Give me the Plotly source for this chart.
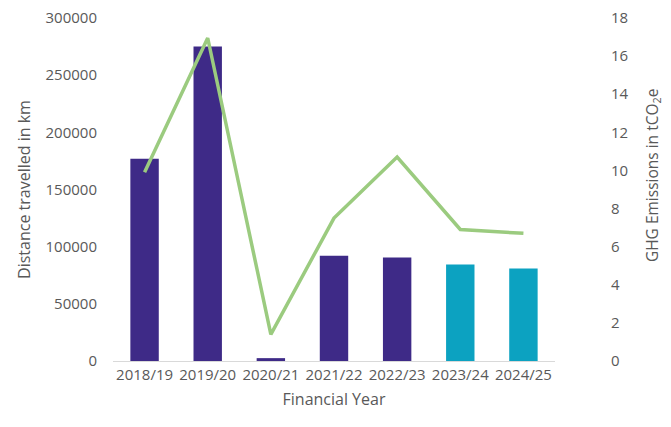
import plotly.graph_objects as go

years = ["2018/19", "2019/20", "2020/21", "2021/22", "2022/23", "2023/24", "2024/25"]
distance_km = [177000, 275000, 2500, 92000, 90500, 84500, 81000]
ghg_tco2e = [9.9, 16.95, 1.4, 7.5, 10.7, 6.9, 6.7]
bar_colors = ["#3E2A87", "#3E2A87", "#3E2A87", "#3E2A87", "#3E2A87", "#0CA2C1", "#0CA2C1"]

font_family = "Open Sans, Lato, sans-serif"
grey = "#595959"

fig = go.Figure()
fig.add_trace(go.Bar(x=years, y=distance_km, marker_color=bar_colors, marker_line_width=0,
                     name="Distance travelled", yaxis="y"))
fig.add_trace(go.Scatter(x=years, y=ghg_tco2e, mode="lines", line=dict(color="#9BCB7F", width=3.5),
                         name="GHG Emissions", yaxis="y2"))

fig.update_layout(
    width=663, height=419,
    margin=dict(l=105, r=116, t=10, b=66, autoexpand=False),
    plot_bgcolor="white", paper_bgcolor="white",
    showlegend=False,
    bargap=0.55,
    font=dict(family=font_family, color=grey, size=15),
    xaxis=dict(title=dict(text="Financial Year", font=dict(size=16, color=grey), standoff=10),
               showline=True, linecolor="#D9D9D9", linewidth=1, ticks="", automargin=False,
               tickfont=dict(size=15, color=grey)),
    yaxis=dict(range=[0, 300000], dtick=50000, showgrid=False, zeroline=False, tickformat="d",
               automargin=False, ticklabeloverflow="allow",
               title=dict(text="Distance travelled in km", font=dict(size=16, color=grey), standoff=10),
               tickfont=dict(size=15, color=grey), ticks="outside", ticklen=12, tickcolor="white"),
    yaxis2=dict(range=[0, 18], dtick=2, overlaying="y", side="right", showgrid=False, zeroline=False,
                automargin=False, ticklabeloverflow="allow",
                tickfont=dict(size=15, color=grey), ticks="outside", ticklen=52, tickcolor="white"),
    annotations=[dict(text="GHG Emissions in tCO<sub>2</sub>e", textangle=-90, showarrow=False,
                      xref="paper", yref="paper", x=1.2195, y=0.542,
                      xanchor="center", yanchor="middle",
                      font=dict(size=15.5, color=grey, family=font_family))],
)

fig.write_html("out.html")
